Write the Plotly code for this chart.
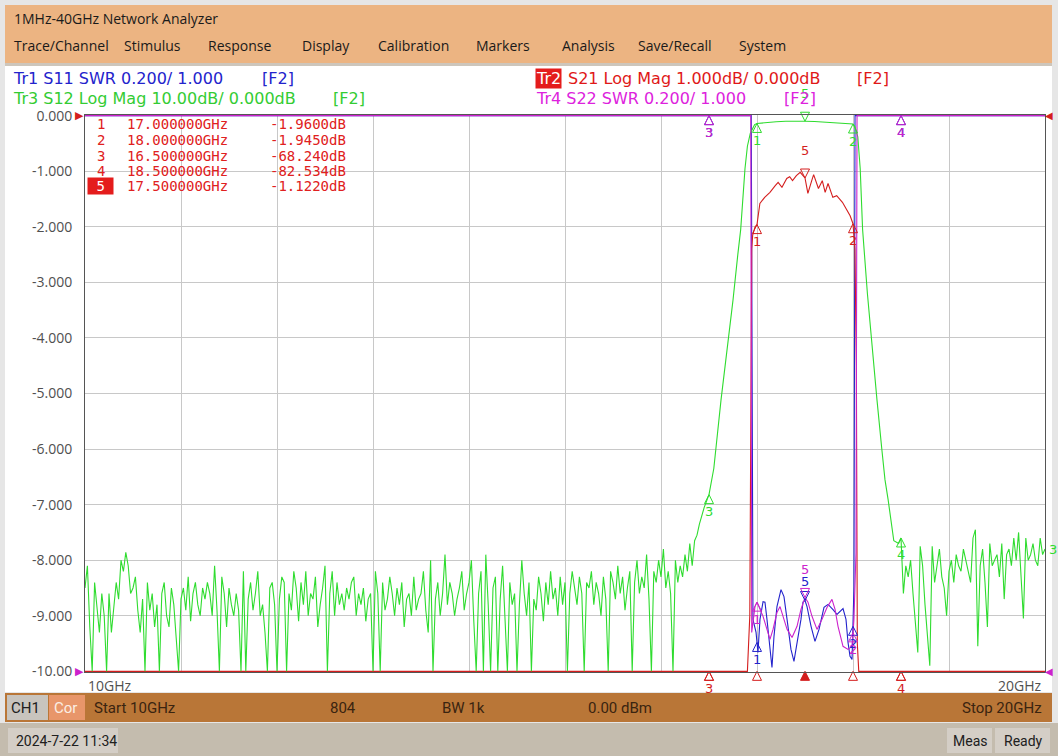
import numpy as np
import plotly.graph_objects as go

# screen geometry of the grid (pixels)
W, H = 1058, 756
L, R, T, B = 85, 1045, 115, 672

# ---------------- values ----------------
marker_freq = [17.0, 18.0, 16.5, 18.5, 17.5]          # GHz
marker_names = ["1", "2", "3", "4", "5"]
marker_table_freq = ["17.000000GHz", "18.000000GHz", "16.500000GHz", "18.500000GHz", "17.500000GHz"]
marker_table_val = ["-1.9600dB", "-1.9450dB", "-68.240dB", "-82.534dB", "-1.1220dB"]

y_tick_vals = [0, -1, -2, -3, -4, -5, -6, -7, -8, -9, -10]
y_tick_text = ["0.000", "-1.000", "-2.000", "-3.000", "-4.000", "-5.000",
               "-6.000", "-7.000", "-8.000", "-9.000", "-10.00"]

# Tr3 S12 log mag, dB (10 dB/div)
s12_left_freq = 10.0 + 0.025 * np.arange(250)
s12_left_db = [
    -85, -81, -92, -101, -84, -88, -93, -86, -90, -102,
    -86, -93, -89, -84, -87, -80, -82, -78.6, -81, -86,
    -85, -83, -89, -93, -87, -101, -84, -89, -86, -92,
    -88, -101, -86, -84, -90, -92, -85, -88, -94, -101,
    -87, -85, -89, -83, -91, -86, -84, -88, -90, -85,
    -87, -84, -86, -90, -81, -89, -101, -83, -86, -92,
    -85, -88, -90, -86, -89, -101, -82, -101, -87, -84,
    -89, -86, -82, -90, -88, -93, -101, -85, -84, -88,
    -101, -87, -83, -84, -101, -86, -89, -82, -85, -91,
    -84, -88, -82, -90, -86, -87, -83, -92, -88, -85,
    -81, -101, -86, -82, -90, -84, -88, -86, -89, -85,
    -87, -84, -83, -90, -86, -88, -85, -91, -87, -86,
    -101, -82, -86, -101, -84, -89, -87, -83, -86, -90,
    -85, -88, -84, -92, -87, -86, -90, -83, -89, -87,
    -86, -82, -89, -93, -80, -101, -87, -84, -90, -86,
    -79, -88, -84, -86, -90, -87, -85, -82, -89, -86,
    -84, -80, -91, -101, -86, -82, -101, -79, -88, -101,
    -85, -83, -101, -87, -81, -90, -101, -84, -88, -86,
    -101, -88, -80, -86, -90, -84, -101, -87, -89, -83,
    -86, -91, -84, -88, -82, -87, -85, -90, -83, -88,
    -84, -101, -86, -82, -85, -88, -83, -86, -101, -84,
    -85, -82, -88, -84, -86, -90, -83, -87, -101, -82,
    -84, -87, -81, -86, -83, -89, -85, -82, -101, -84,
    -80, -86, -83, -85, -79, -87, -101, -82, -84, -80,
    -83, -78, -85, -82, -86, -101, -80, -84, -81, -83,
]
s12_band_freq = [16.25, 16.275, 16.30, 16.325, 16.35, 16.375, 16.40, 16.45, 16.50, 16.55,
                 16.625, 16.70, 16.75, 16.80, 16.83, 16.875, 16.90, 16.93, 16.95, 16.975,
                 17.0, 17.1, 17.2, 17.3, 17.4, 17.5, 17.6, 17.7, 17.8, 17.9,
                 18.0, 18.02, 18.05, 18.075, 18.10, 18.15, 18.20, 18.25, 18.30, 18.333,
                 18.365, 18.40, 18.425]
s12_band_db = [-79, -82, -77, -81, -76.5, -75.5, -73.5, -70.5, -68.2, -63.5,
               -51.2, -40.5, -33.2, -25.0, -20.5, -9.5, -5.5, -3.2, -2.4, -1.6,
               -1.4, -1.2, -1.1, -1.0, -0.95, -1.0, -1.05, -1.15, -1.25, -1.35,
               -1.5, -2.0, -3.8, -9.5, -20.5, -32.0, -42.0, -51.2, -60.0, -65.5,
               -69.0, -74.0, -76.5]
s12_right_freq = 18.475 + 0.025 * np.arange(62)
s12_right_db = [
    -77, -76, -86, -81, -83, -80, -86, -92, -96.6, -77.5,
    -81, -88, -94, -99, -77.5, -84, -81, -78, -83, -85,
    -90, -82, -80, -84, -79, -81, -82, -78, -80, -82,
    -84, -76, -74.5, -95.5, -81, -78, -84, -92, -77, -81,
    -80, -79, -83, -77, -87, -79, -78, -81, -76, -80,
    -75, -84, -90.5, -76, -80, -79, -77, -80, -81, -76,
    -79, -78,
]

# Tr2 S21 log mag, dB (1 dB/div)
s21_freq = [10.0, 12.0, 14.0, 16.0, 16.5, 16.9, 16.925, 16.935, 16.945, 16.955,
            16.98, 17.0, 17.03, 17.08, 17.135, 17.19, 17.22, 17.26, 17.31, 17.34,
            17.37, 17.41, 17.45, 17.5, 17.53, 17.57, 17.59, 17.64, 17.68, 17.71,
            17.74, 17.79, 17.83, 17.89, 17.94, 17.97, 18.0, 18.02, 18.035, 18.045,
            18.06, 18.5, 19.0, 20.0]
s21_db = [-95, -92, -93, -80, -68.24, -14, -9, -4.5, -2.4, -2.15,
          -2.0, -1.96, -1.58, -1.47, -1.38, -1.26, -1.20, -1.29, -1.13, -1.10,
          -1.17, -1.08, -1.02, -1.122, -1.40, -1.17, -1.06, -1.31, -1.17, -1.38,
          -1.22, -1.47, -1.44, -1.56, -1.71, -1.80, -1.945, -2.4, -4.5, -9.5,
          -14, -82.53, -85, -90]

# Tr1 S11 SWR (0.2/div, 1.000 at bottom)
s11_freq = [10.0, 16.5, 16.94, 16.958, 16.99, 17.01, 17.031, 17.063, 17.083, 17.104,
            17.135, 17.156, 17.177, 17.208, 17.25, 17.281, 17.313, 17.354, 17.385, 17.417,
            17.458, 17.479, 17.5, 17.521, 17.563, 17.604, 17.646, 17.698, 17.74, 17.792,
            17.833, 17.896, 17.927, 17.948, 17.969, 17.99, 18.0, 18.01, 18.021, 18.5, 20.0]
s11_swr = [40, 30, 3.4, 1.187, 1.140, 1.068, 1.187, 1.251, 1.249, 1.187,
           1.068, 1.014, 1.126, 1.233, 1.294, 1.269, 1.187, 1.079, 1.036, 1.104,
           1.187, 1.249, 1.255, 1.233, 1.162, 1.108, 1.151, 1.230, 1.241, 1.222,
           1.205, 1.226, 1.187, 1.104, 1.054, 1.043, 1.162, 1.305, 3.4, 30, 40]

# Tr4 S22 SWR (0.2/div, 1.000 at bottom)
s22_freq = [10.0, 16.5, 16.935, 16.945, 16.979, 17.0, 17.031, 17.063, 17.104, 17.135,
            17.167, 17.208, 17.24, 17.271, 17.313, 17.365, 17.417, 17.458, 17.5, 17.531,
            17.573, 17.625, 17.677, 17.729, 17.781, 17.813, 17.844, 17.896, 17.948, 17.99,
            18.01, 18.031, 18.042, 18.5, 20.0]
s22_swr = [40, 30, 3.4, 1.140, 1.233, 1.249, 1.223, 1.198, 1.151, 1.115,
           1.151, 1.212, 1.233, 1.198, 1.151, 1.122, 1.162, 1.223, 1.266, 1.249,
           1.198, 1.151, 1.187, 1.230, 1.259, 1.223, 1.162, 1.090, 1.079, 1.090,
           1.187, 1.427, 3.4, 30, 40]

# ---------------- colours / fonts ----------------
C_S11 = "#2323cc"
C_S21 = "#d41e1e"
C_S12 = "#2fdc2f"
C_S22 = "#cc22cc"
UI_FONT = "Open Sans"
HDR_FONT = "DejaVu Sans"
MONO = "DejaVu Sans Mono"
BAR_FONT = "Roboto"

YMIN, YMAX = -10.012, 0.012


def log_disp(db, per_div):
    return np.clip(np.asarray(db, float) / per_div, -10, 0)


def swr_disp(swr):
    return np.clip((np.asarray(swr, float) - 1.0) / 0.2 - 10, -10, 0)


def px_x(px):
    return (px - L) / (R - L)


def px_y(py):
    return (B - py) / (B - T)


s12_freq = np.concatenate([s12_left_freq, s12_band_freq, s12_right_freq])
s12_db = np.concatenate([s12_left_db, s12_band_db, s12_right_db])

# name, freq, display value, colour, label shift of the active marker
traces = [
    ("S11", np.asarray(s11_freq), swr_disp(s11_swr), C_S11, 19),
    ("S21", np.asarray(s21_freq), log_disp(s21_db, 1.0), C_S21, 28),
    ("S12", s12_freq, log_disp(s12_db, 10.0), C_S12, 28),
    ("S22", np.asarray(s22_freq), swr_disp(s22_swr), C_S22, 28),
]

fig = go.Figure()
for name, f, d, col, _ in traces:
    fig.add_trace(go.Scatter(x=f, y=d, mode="lines", name=name,
                             line=dict(color=col, width=1.1), hoverinfo="skip"))

ann = []


def data_label(text, x, y, color, yshift=0, xshift=0, size=13, anchor="center"):
    return dict(text=text, xref="x", yref="y", x=x, y=y, xshift=xshift, yshift=yshift,
                xanchor=anchor, yanchor="middle", showarrow=False,
                font=dict(family=HDR_FONT, size=size, color=color))


# markers on every trace
for name, f, d, col, shift5 in traces:
    ym = np.interp(marker_freq, f, d)
    fig.add_trace(go.Scatter(
        x=marker_freq[:4], y=ym[:4], mode="markers", cliponaxis=False, hoverinfo="skip",
        marker=dict(symbol="arrow-up-open", size=9, color=col, line=dict(width=1, color=col))))
    fig.add_trace(go.Scatter(
        x=[marker_freq[4]], y=[ym[4]], mode="markers", cliponaxis=False, hoverinfo="skip",
        marker=dict(symbol="arrow-down-open", size=9, color=col, line=dict(width=1, color=col))))
    for i in range(4):
        ann.append(data_label(marker_names[i], marker_freq[i], ym[i], col, yshift=-17))
    ann.append(data_label(marker_names[4], marker_freq[4], ym[4], col, yshift=shift5))

# stimulus indicators of the active trace (Tr2) under the grid
fig.add_trace(go.Scatter(
    x=marker_freq, y=[-10] * 5, mode="markers", cliponaxis=False, hoverinfo="skip",
    marker=dict(symbol=["arrow-up-open"] * 4 + ["arrow-up"], size=9, color=C_S21,
                line=dict(width=1, color=C_S21))))

# reference level pointers and trace end label
ann += [
    data_label("▶", 10, 0, C_S21, xshift=-6, size=11),
    data_label("▶", 10, -10, C_S22, xshift=-6, size=11),
    data_label("◀", 20, 0, C_S21, xshift=4, size=10),
    data_label("◀", 20, -10, C_S22, xshift=4, size=10),
    data_label("3", 20, float(log_disp(s12_right_db[-1:], 10.0)[0]), C_S12, xshift=2,
               anchor="left"),
]


# ---------------- instrument chrome ----------------
def rect(x0, y0, x1, y1, color):
    return dict(type="rect", xref="paper", yref="paper", x0=px_x(x0), x1=px_x(x1),
                y0=px_y(y1), y1=px_y(y0), fillcolor=color, line=dict(width=0), layer="below")


def label(text, x, y, color, size=14, family=UI_FONT, anchor="left", bg="rgba(0,0,0,0)"):
    return dict(text=text, xref="paper", yref="paper", x=px_x(x), y=px_y(y),
                xanchor=anchor, yanchor="middle", showarrow=False, bgcolor=bg, borderpad=0,
                font=dict(family=family, size=size, color=color))


shapes = [
    rect(0, 0, W, H, "#e6e6e6"),
    rect(5, 66, 1052, 692, "#ffffff"),
    rect(5, 5, 1052, 63, "#ecb482"),
    rect(5, 63, 1052, 66, "#cdc6bc"),
    rect(5, 693, 1052, 722, "#b97637"),
    rect(7, 695, 48, 720, "#c8c4be"),
    rect(49, 695, 85, 720, "#e8966a"),
    rect(0, 723, W, H, "#c4bcae"),
    rect(8, 728, 118, 753, "#d4cec6"),
    rect(947, 728, 992, 753, "#d4cec6"),
    rect(995, 728, 1050, 753, "#d4cec6"),
]

menu = [("Trace/Channel", 13), ("Stimulus", 123), ("Response", 207), ("Display", 301),
        ("Calibration", 377), ("Markers", 475), ("Analysis", 561), ("Save/Recall", 637),
        ("System", 738)]

ann.append(label("1MHz-40GHz Network Analyzer", 13, 19, "#1a1a1a", 14))
ann += [label(t, x, 46, "#1a1a1a", 14) for t, x in menu]

ann += [
    label("Tr1 S11 SWR 0.200/ 1.000", 12, 79, C_S11, 16, HDR_FONT),
    label("[F2]", 261, 79, C_S11, 16, HDR_FONT),
    label("Tr3 S12 Log Mag 10.00dB/ 0.000dB", 12, 98, "#33cc33", 16, HDR_FONT),
    label("[F2]", 332, 98, "#33cc33", 16, HDR_FONT),
    label("Tr2", 535, 79, "#ffffff", 16, HDR_FONT, bg="#e41c1c"),
    label("S21 Log Mag 1.000dB/ 0.000dB", 567, 79, "#e01818", 16, HDR_FONT),
    label("[F2]", 856, 79, "#e01818", 16, HDR_FONT),
    label("Tr4 S22 SWR 0.200/ 1.000", 535, 98, "#dd22dd", 16, HDR_FONT),
    label("[F2]", 783, 98, "#dd22dd", 16, HDR_FONT),
]

rows = [124, 140, 156, 171, 186]
for i, yy in enumerate(rows):
    if i == 4:
        ann.append(label(" " + marker_names[i] + " ", 100, yy, "#ffffff", 14, MONO,
                         anchor="center", bg="#e41c1c"))
    else:
        ann.append(label(marker_names[i], 101, yy, "#e02020", 14, MONO, anchor="center"))
    ann.append(label(marker_table_freq[i], 126, yy, "#e02020", 14, MONO))
    ann.append(label(marker_table_val[i], 347, yy, "#e02020", 14, MONO, anchor="right"))

ann += [
    label("10GHz", 87, 685, "#505050", 14),
    label("20GHz", 1043, 685, "#505050", 14, anchor="right"),
    label("CH1", 10, 708, "#202020", 15, BAR_FONT),
    label("Cor", 53, 708, "#fbeee4", 15, BAR_FONT),
    label("Start 10GHz", 93, 708, "#3a2410", 15, BAR_FONT),
    label("804", 329, 708, "#3a2410", 15, BAR_FONT),
    label("BW 1k", 441, 708, "#3a2410", 15, BAR_FONT),
    label("0.00 dBm", 587, 708, "#3a2410", 15, BAR_FONT),
    label("Stop 20GHz", 1043, 708, "#3a2410", 15, BAR_FONT, anchor="right"),
    label("2024-7-22 11:34", 15, 741, "#202020", 14, BAR_FONT),
    label("Meas", 970, 741, "#202020", 14, BAR_FONT, anchor="center"),
    label("Ready", 1023, 741, "#202020", 14, BAR_FONT, anchor="center"),
]

fig.update_layout(
    width=W, height=H, autosize=False,
    margin=dict(l=L, r=W - R, t=T, b=H - B, pad=0),
    paper_bgcolor="#e6e6e6", plot_bgcolor="#ffffff",
    showlegend=False, hovermode=False,
    shapes=shapes, annotations=ann,
)
fig.update_xaxes(range=[10, 20], dtick=1, showgrid=True, gridcolor="#c8c8c8", gridwidth=1,
                 showticklabels=False, zeroline=False, showline=True, mirror=True,
                 linecolor="#555555", linewidth=1, ticks="")
fig.update_yaxes(range=[YMIN, YMAX], tickvals=y_tick_vals, ticktext=y_tick_text,
                 showgrid=True, gridcolor="#c8c8c8", gridwidth=1, zeroline=False,
                 showline=True, mirror=True, linecolor="#555555", linewidth=1, ticks="",
                 ticklabelstandoff=9,
                 tickfont=dict(family=UI_FONT, size=14, color="#505050"))

fig.write_html("out.html", config={"displayModeBar": False},
               post_script="document.body.style.margin='0';document.body.style.overflow='hidden';")
